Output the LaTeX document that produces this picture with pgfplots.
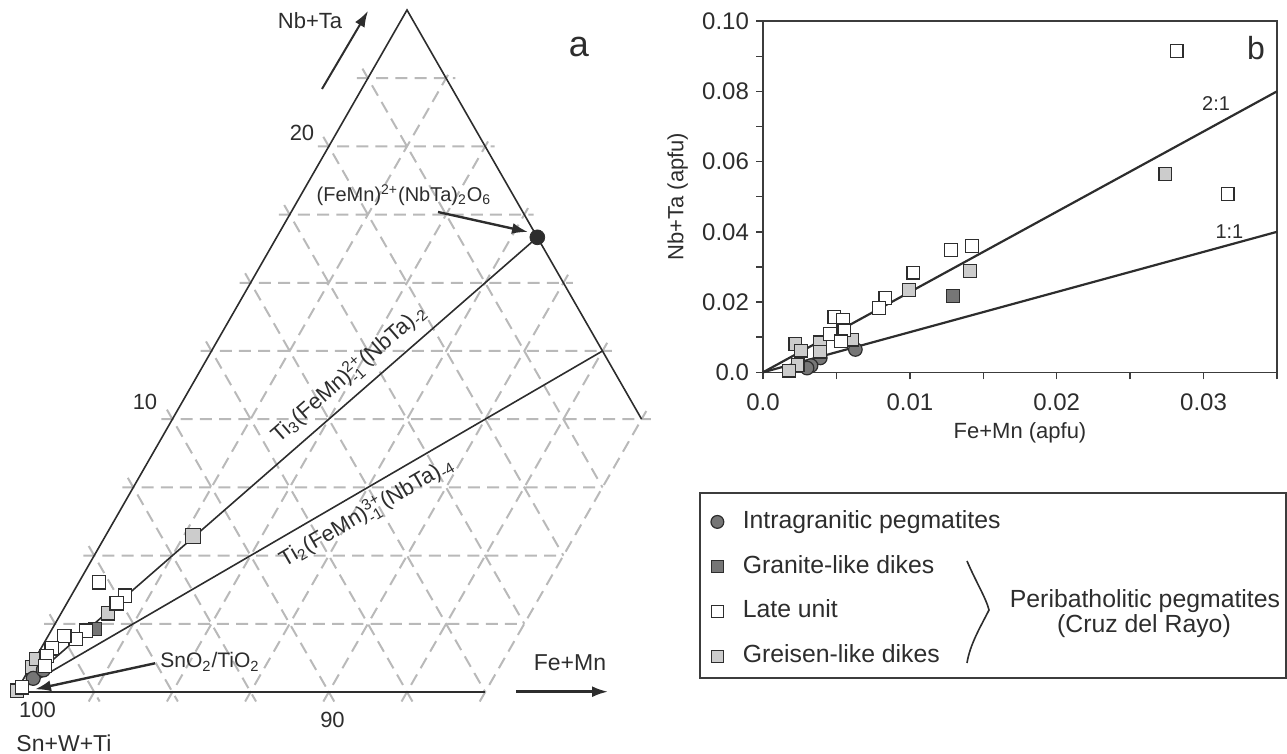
\documentclass[border=0pt]{standalone}
\usepackage{pgfplots}
\pgfplotsset{compat=1.18}
\usepackage{amsmath}
\usepackage{fontspec}
\setmainfont{Liberation Sans}
\usetikzlibrary{arrows.meta}
\definecolor{ln}{RGB}{45,45,45}
\definecolor{gridc}{RGB}{185,185,185}
\definecolor{dkg}{RGB}{118,118,118}
\definecolor{ltg}{RGB}{204,204,204}
\definecolor{frm}{RGB}{60,60,60}
\newcommand{\fs}[1]{\fontsize{#1}{#1}\selectfont}
\begin{document}
\begin{tikzpicture}[every node/.append style={text=ln}]
\useasboundingbox (0pt,0pt) rectangle (643.5pt,377pt);

% ---------------- panel a (ternary corner: x = Fe+Mn, y = Nb+Ta, %) ----------------
\begin{axis}[at={(8pt,31pt)}, anchor=origin,
  x={(15.64pt,0pt)}, y={(7.82pt,13.64pt)},
  xmin=0, xmax=15, ymin=0, ymax=25, hide axis, clip=false]
\draw[gridc, line width=1pt, dash pattern=on 6pt off 3.6pt]
 (axis cs:-0.35,2.5) -- (axis cs:15,2.5)
 (axis cs:-0.35,5) -- (axis cs:15,5)
 (axis cs:-0.35,7.5) -- (axis cs:15,7.5)
 (axis cs:-0.35,10) -- (axis cs:15.3,10)
 (axis cs:-0.35,12.5) -- (axis cs:12.8,12.5)
 (axis cs:-0.35,15) -- (axis cs:10.3,15)
 (axis cs:-0.35,17.5) -- (axis cs:7.8,17.5)
 (axis cs:-0.35,20) -- (axis cs:5.3,20)
 (axis cs:-0.35,22.5) -- (axis cs:2.8,22.5)
 (axis cs:2.5,-0.35) -- (axis cs:2.5,22.8)
 (axis cs:5,-0.35) -- (axis cs:5,20.3)
 (axis cs:7.5,-0.35) -- (axis cs:7.5,17.8)
 (axis cs:10,-0.35) -- (axis cs:10,15.3)
 (axis cs:12.5,-0.35) -- (axis cs:12.5,12.8)
 (axis cs:15,-0.35) -- (axis cs:15,10.3)
 (axis cs:-0.35,2.85) -- (axis cs:2.85,-0.35)
 (axis cs:-0.35,5.35) -- (axis cs:5.35,-0.35)
 (axis cs:-0.35,7.85) -- (axis cs:7.85,-0.35)
 (axis cs:-0.35,10.35) -- (axis cs:10.35,-0.35)
 (axis cs:-0.35,12.85) -- (axis cs:12.85,-0.35)
 (axis cs:-0.35,15.35) -- (axis cs:15,0)
 (axis cs:-0.35,17.85) -- (axis cs:15,2.5)
 (axis cs:-0.35,20.35) -- (axis cs:15,5)
 (axis cs:-0.35,22.85) -- (axis cs:15,7.5);
\addplot[ln, line width=0.8pt] coordinates {(0,0) (0,25) (15,10)};
\addplot[ln, line width=0.9pt] coordinates {(0,0) (15,0)};
\addplot[ln, line width=0.8pt] coordinates {(0,0) (8.333,16.667)}
  node[pos=0.665, sloped, above=0.5pt, font=\fs{11}] {Ti$_{\text{3}}$(FeMn)$^{\text{2+}}_{\text{-1}}$(NbTa)$_{\text{-2}}$};
\addplot[ln, line width=0.8pt] coordinates {(0,0) (12.5,12.5)}
  node[pos=0.58, sloped, below=0.5pt, font=\fs{11}] {Ti$_{\text{2}}$(FeMn)$^{\text{3+}}_{\text{-1}}$(NbTa)$_{\text{-4}}$};
% Greisen-like dikes
\addplot[only marks, mark=square*, mark size=3.3pt, mark options={fill=ltg, draw=ln, line width=0.6pt}]
  coordinates {(0.05,0.905) (0.04,1.20) (0.0,0.05) (1.51,2.88)};
\addplot[only marks, mark=square*, mark size=3.6pt, mark options={fill=ltg, draw=ln, line width=0.6pt}]
  coordinates {(2.80,5.72)};
% Granite-like dikes
\addplot[only marks, mark=square*, mark size=3.3pt, mark options={fill=dkg, draw=ln, line width=0.6pt}]
  coordinates {(1.38,2.30)};
% Intragranitic pegmatites
\addplot[only marks, mark=*, mark size=3.5pt, mark options={fill=dkg, draw=ln, line width=0.6pt}]
  coordinates {(0.30,0.50) (0.47,0.81)};
% Late unit
\addplot[only marks, mark=square*, mark size=3.3pt, mark options={fill=white, draw=ln, line width=0.6pt}]
  coordinates {(0.64,4.02) (1.72,3.53) (1.59,3.25) (1.11,2.25) (0.93,1.95) (0.52,2.05) (0.34,1.60) (0.32,1.32) (0.45,0.95) (0.10,0.17)};
% (FeMn)(NbTa)2O6 end member
\addplot[only marks, mark=*, mark size=3.7pt, mark options={fill=ln, draw=ln}]
  coordinates {(8.333,16.667)};
\end{axis}

% ---------------- panel b ----------------
\begin{axis}[at={(381.5pt,190.85pt)}, anchor=south west, scale only axis,
  width=257pt, height=175.6pt,
  xmin=0, xmax=0.035, ymin=0, ymax=0.1,
  scaled x ticks=false, scaled y ticks=false,
  xtick={0,0.005,0.01,0.015,0.02,0.025,0.03,0.035},
  xticklabels={0.0,,0.01,,0.02,,0.03,},
  ytick={0,0.01,0.02,0.03,0.04,0.05,0.06,0.07,0.08,0.09,0.1},
  yticklabels={0.0,,0.02,,0.04,,0.06,,0.08,,0.10},
  /pgf/number format/assume math mode=true,
  tick align=outside, tick pos=left, major tick length=3.5pt,
  axis line style={frm, line width=0.7pt}, tick style={frm, line width=0.7pt},
  ticklabel style={font=\fs{12}},
  xticklabel style={yshift=-3.5pt},
  xlabel={Fe+Mn (apfu)}, ylabel={Nb+Ta (apfu)},
  label style={font=\fs{11}},
  xlabel style={at={(axis description cs:0.5,-0.173)}, anchor=center},
  ylabel style={at={(axis description cs:-0.166,0.5)}, anchor=center},
  clip=false,
  legend cell align=left,
  legend style={at={(axis description cs:-0.1012,-0.393)}, anchor=north west,
    draw=none, fill=none, inner sep=0pt, outer sep=0pt, row sep=10.8pt, column sep=9.5pt,
    font=\fs{12.4}, nodes={inner sep=0pt, text height=9pt, text depth=2.6pt}}]
\addplot[ln, line width=1.1pt, forget plot] coordinates {(0,0) (0.035,0.08)};
\addplot[ln, line width=1.1pt, forget plot] coordinates {(0,0) (0.035,0.04)};
\node[font=\fs{10}] at (axis cs:0.03085,0.0764) {2:1};
\node[font=\fs{10}] at (axis cs:0.03176,0.0400) {1:1};
% Intragranitic pegmatites
\addplot[only marks, mark=*, mark size=3.4pt, mark options={fill=dkg, draw=ln, line width=0.6pt}, forget plot]
  coordinates {(0.00629,0.0065) (0.0039,0.0041) (0.00327,0.0019) (0.0030,0.0012)};
% Greisen-like dikes
\addplot[only marks, mark=square*, mark size=3.2pt, mark options={fill=ltg, draw=ln, line width=0.6pt}, forget plot]
  coordinates {(0.0274,0.0564) (0.0141,0.0288) (0.00993,0.0234) (0.00607,0.0093) (0.0022,0.0081) (0.00259,0.0062) (0.0039,0.0085) (0.00388,0.0059) (0.00236,0.0021) (0.00179,0.0005)};
% Late unit
\addplot[only marks, mark=square*, mark size=3.2pt, mark options={fill=white, draw=ln, line width=0.6pt}, forget plot]
  coordinates {(0.02816,0.0915) (0.03163,0.0508) (0.0128,0.0348) (0.01423,0.0360) (0.01024,0.0284) (0.00834,0.0212) (0.00788,0.0183) (0.00486,0.0157) (0.00543,0.0149) (0.00457,0.0109) (0.00554,0.0119) (0.00531,0.0088)};
% Granite-like dikes
\addplot[only marks, mark=square*, mark size=3.2pt, mark options={fill=dkg, draw=ln, line width=0.6pt}, forget plot]
  coordinates {(0.01292,0.0217)};
\addlegendimage{only marks, mark=*, mark size=3.2pt, mark options={fill=dkg, draw=ln, line width=0.6pt}}
\addlegendentry{Intragranitic pegmatites}
\addlegendimage{only marks, mark=square*, mark size=3pt, mark options={fill=dkg, draw=ln, line width=0.6pt}}
\addlegendentry{Granite-like dikes}
\addlegendimage{only marks, mark=square*, mark size=3pt, mark options={fill=white, draw=ln, line width=0.6pt}}
\addlegendentry{Late unit}
\addlegendimage{only marks, mark=square*, mark size=3pt, mark options={fill=ltg, draw=ln, line width=0.6pt}}
\addlegendentry{Greisen-like dikes}
\end{axis}

\begin{scope}[x=0.5pt,y=0.5pt]
% annotations panel a (pixel-based positions, y measured from the bottom)
\draw[ln, line width=1pt, -{Latex[length=8pt,width=5.5pt]}] (322,665) -- (368,743);
\node[font=\fs{11}] at (310,733) {Nb+Ta};
\node[font=\fs{18}] at (579,707) {a};
\node[font=\fs{11}] at (302,621) {20};
\node[font=\fs{11}] at (145,352) {10};
\node[font=\fs{11}] at (37.5,44) {100};
\node[font=\fs{11}] at (332.5,34) {90};
\node[font=\fs{11.5}] at (64,11) {Sn+W+Ti};
\node[font=\fs{11.5}] at (570,91) {Fe+Mn};
\draw[ln, line width=1.2pt, -{Latex[length=8pt,width=5.5pt]}] (516,62.3) -- (608,62.3);
\node[font=\fs{10.5}] at (210,92) {SnO$_{\text{2}}$/TiO$_{\text{2}}$};
\draw[ln, line width=1.2pt, -{Latex[length=8pt,width=5.5pt]}] (155,90.7) -- (35,64.7);
\node[font=\fs{10}] at (404,559) {(FeMn)$^{\text{2+}}$(NbTa)$_{\text{2}}$O$_{\text{6}}$};
\draw[ln, line width=1.2pt, -{Latex[length=8pt,width=5.5pt]}] (438,542) -- (528,522);
\node[font=\fs{16}] at (1256,706) {b};
% legend frame, brace and group label
\draw[frm, line width=1pt] (700,261) rectangle (1286,76);
\draw[ln, line width=0.8pt] (967,193) .. controls (976,172) and (986,156) .. (989,144)
  .. controls (981,128) and (970,110) .. (967,91);
\node[font=\fs{12.4}, anchor=base] at (1145,146) {Peribatholitic pegmatites};
\node[font=\fs{12.4}, anchor=base] at (1144,121.3) {(Cruz del Rayo)};
\end{scope}
\end{tikzpicture}
\end{document}
